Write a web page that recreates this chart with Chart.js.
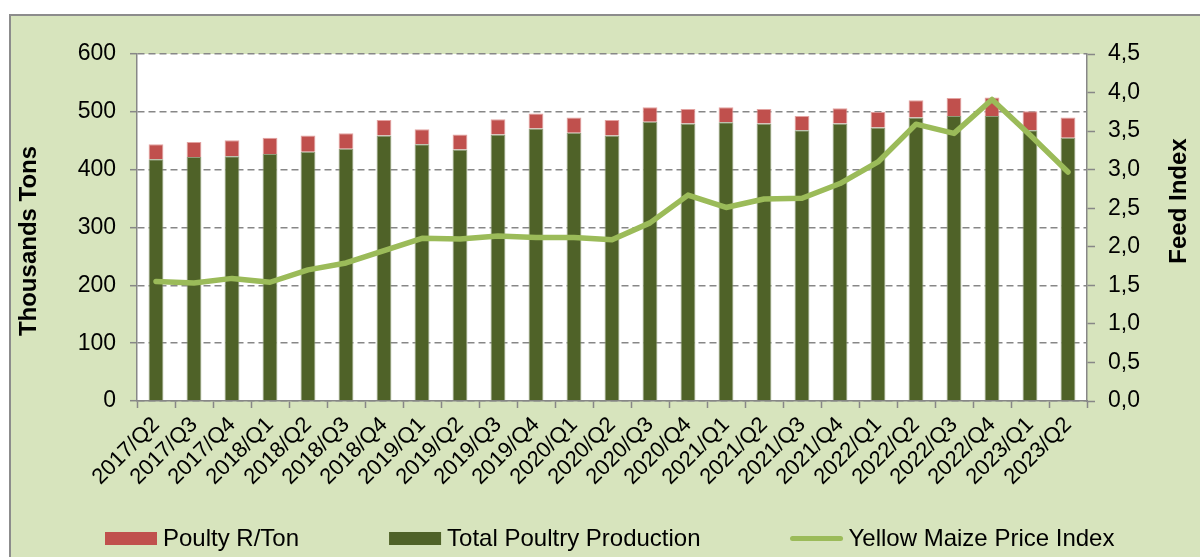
<!DOCTYPE html>
<html>
<head>
<meta charset="utf-8">
<title>Poultry production and yellow maize price index</title>
<script src="https://cdn.jsdelivr.net/npm/chart.js@4.4.0/dist/chart.umd.min.js"></script>
<style>
  html, body { margin: 0; padding: 0; background: #fff; }
  canvas { display: block; }
</style>
</head>
<body>
<canvas id="poultryChart" width="1200" height="557"></canvas>
<script>
// Quarterly figures
const quarters = ['2017/Q2', '2017/Q3', '2017/Q4', '2018/Q1', '2018/Q2', '2018/Q3', '2018/Q4',
    '2019/Q1', '2019/Q2', '2019/Q3', '2019/Q4', '2020/Q1', '2020/Q2', '2020/Q3', '2020/Q4',
    '2021/Q1', '2021/Q2', '2021/Q3', '2021/Q4', '2022/Q1', '2022/Q2', '2022/Q3', '2022/Q4',
    '2023/Q1', '2023/Q2'];

// thousands tons
const totalProduction = [418, 422, 423, 427, 431, 436, 459, 444, 435, 461, 471, 464, 459,
    483, 480, 482, 480, 468, 480, 473, 490, 493, 493, 468, 455];

// stacked on top of the production bars
const poultyPerTon = [26, 26, 28, 28, 28, 27, 27, 26, 26, 26, 26, 26, 27,
    25, 25, 26, 25, 25, 26, 27, 30, 31, 32, 33, 35];

// feed index (right axis)
const maizeIndex = [1.55, 1.53, 1.59, 1.54, 1.70, 1.79, 1.95, 2.11, 2.10, 2.14, 2.12, 2.12, 2.09,
    2.31, 2.67, 2.51, 2.62, 2.63, 2.82, 3.10, 3.59, 3.47, 3.91, 3.45, 2.97];

const leftTicks = { min: 0, max: 600, step: 100 };
const rightTicks = { min: 0, max: 4.5, step: 0.5 };

const FONT = '"Liberation Sans", Arial, sans-serif';
const axisGrey = '#878787';

// Background frame, white plot area, rotated axis titles and the legend
const chartDecor = {
    id: 'chartDecor',
    beforeDraw(chart) {
        const { ctx, chartArea: a, width, height } = chart;
        ctx.save();
        ctx.fillStyle = '#ffffff';
        ctx.fillRect(0, 0, width, height);
        ctx.fillStyle = '#D7E4BD';
        ctx.fillRect(10, 15, width - 10, height - 15);
        ctx.strokeStyle = '#8c8c8c';
        ctx.lineWidth = 2;
        ctx.beginPath();
        ctx.moveTo(10, height);
        ctx.lineTo(10, 15);
        ctx.lineTo(width, 15);
        ctx.stroke();
        ctx.fillStyle = '#ffffff';
        ctx.fillRect(a.left, a.top, a.width, a.height);
        ctx.restore();
    },
    afterDraw(chart) {
        const ctx = chart.ctx;
        ctx.save();
        ctx.fillStyle = '#000';
        ctx.font = 'bold 24px ' + FONT;
        ctx.textAlign = 'center';
        ctx.textBaseline = 'middle';

        const drawVertical = (text, x, y) => {
            ctx.save();
            ctx.translate(x, y);
            ctx.rotate(-Math.PI / 2);
            ctx.fillText(text, 0, 0);
            ctx.restore();
        };
        drawVertical('Thousands Tons', 29, 241);
        drawVertical('Feed Index', 1179, 201);

        // legend: red, green, line
        const ds = chart.data.datasets;
        const items = [ds[1], ds[0], ds[2]];
        ctx.font = '24px ' + FONT;
        ctx.textAlign = 'left';
        let x = 105;
        const y = 538.5;
        items.forEach(item => {
            if (item.type === 'line') {
                ctx.strokeStyle = item.borderColor;
                ctx.lineWidth = 5;
                ctx.lineCap = 'round';
                ctx.beginPath();
                ctx.moveTo(x + 2, y);
                ctx.lineTo(x + 50, y);
                ctx.stroke();
            } else {
                ctx.fillStyle = item.backgroundColor;
                ctx.fillRect(x, y - 6.5, 52, 13);
            }
            ctx.fillStyle = '#000';
            ctx.fillText(item.label, x + 58, y + 1);
            x += 58 + ctx.measureText(item.label).width + 90;
        });
        ctx.restore();
    }
};

const ctx = document.getElementById('poultryChart').getContext('2d');

new Chart(ctx, {
    data: {
        labels: quarters,
        datasets: [
            {
                type: 'bar',
                label: 'Total Poultry Production',
                data: totalProduction,
                backgroundColor: '#4F6228',
                borderColor: '#8f9c78',
                borderWidth: 1,
                yAxisID: 'y',
                order: 1
            },
            {
                type: 'bar',
                label: 'Poulty R/Ton',
                data: poultyPerTon,
                backgroundColor: '#C0504D',
                borderColor: '#e3a3a1',
                borderWidth: 1,
                yAxisID: 'y',
                order: 1
            },
            {
                type: 'line',
                label: 'Yellow Maize Price Index',
                data: maizeIndex,
                borderColor: '#9BBB59',
                borderWidth: 5.5,
                borderCapStyle: 'round',
                borderJoinStyle: 'round',
                pointRadius: 0,
                tension: 0,
                fill: false,
                yAxisID: 'y1',
                order: 0
            }
        ]
    },
    options: {
        responsive: false,
        animation: false,
        devicePixelRatio: 1,
        layout: { padding: { top: 54, left: 0, right: 0, bottom: 0 } },
        datasets: {
            bar: { barPercentage: 0.39, categoryPercentage: 1 }
        },
        plugins: {
            legend: { display: false },
            tooltip: { enabled: false }
        },
        scales: {
            x: {
                stacked: true,
                grid: {
                    display: true,
                    drawOnChartArea: false,
                    drawTicks: true,
                    offset: true,
                    tickLength: 7,
                    tickColor: axisGrey,
                    tickWidth: 1.5
                },
                border: { display: true, color: axisGrey, width: 1.5 },
                ticks: {
                    autoSkip: false,
                    minRotation: 45,
                    maxRotation: 45,
                    padding: 4,
                    color: '#000',
                    font: { family: FONT, size: 22 }
                },
                afterFit: scale => { scale.height = 156; }
            },
            y: {
                stacked: true,
                position: 'left',
                min: leftTicks.min,
                max: leftTicks.max,
                ticks: {
                    stepSize: leftTicks.step,
                    padding: 14,
                    color: '#000',
                    font: { family: FONT, size: 23 }
                },
                grid: {
                    color: axisGrey,
                    lineWidth: 1.4,
                    tickLength: 7,
                    tickColor: axisGrey,
                    tickWidth: 1.5,
                    tickBorderDash: []
                },
                border: { display: true, color: axisGrey, width: 1.5, dash: [7, 4] },
                afterFit: scale => { scale.width = 137; }
            },
            y1: {
                position: 'right',
                min: rightTicks.min,
                max: rightTicks.max,
                ticks: {
                    stepSize: rightTicks.step,
                    padding: 13,
                    color: '#000',
                    font: { family: FONT, size: 23 },
                    callback: v => v.toFixed(1).replace('.', ',')
                },
                grid: {
                    drawOnChartArea: false,
                    drawTicks: true,
                    tickLength: 8,
                    tickColor: axisGrey,
                    tickWidth: 1.5
                },
                border: { display: true, color: axisGrey, width: 1.5 },
                afterFit: scale => { scale.width = 113; }
            }
        }
    },
    plugins: [chartDecor]
});
</script>
</body>
</html>
